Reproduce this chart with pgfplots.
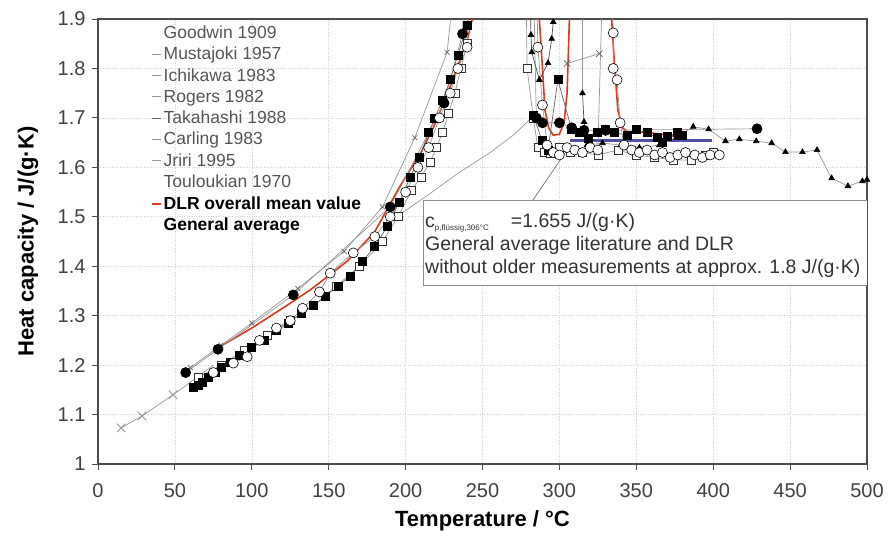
\documentclass[border=0pt]{standalone}
\usepackage{pgfplots}
\pgfplotsset{compat=1.18}
\usepackage{fontspec}
\setmainfont{Liberation Sans}
\definecolor{dlrred}{RGB}{222,56,30}
\definecolor{avgblue}{RGB}{80,80,170}
\definecolor{lgray}{RGB}{150,150,150}
\definecolor{txtgray}{RGB}{85,85,85}
\begin{document}
\begin{tikzpicture}
\begin{axis}[
  at={(0,0)}, anchor=south west,
  scale only axis, width=769pt, height=445pt,
  xmin=0, xmax=500, ymin=1, ymax=1.9,
  xtick={0,50,100,150,200,250,300,350,400,450,500},
  ytick={1,1.1,1.2,1.3,1.4,1.5,1.6,1.7,1.8,1.9},
  yticklabels={1,1.1,1.2,1.3,1.4,1.5,1.6,1.7,1.8,1.9},
  tick align=outside, xtick pos=bottom, ytick pos=left,
  major tick length=6pt,
  tick style={black!70, line width=0.9pt},
  axis line style={black!70, line width=1.2pt},
  grid=major,
  major grid style={black!18, dotted, line width=0.6pt},
  tick label style={font=\fontsize{20}{24}\selectfont, text=black!75},
  xticklabel style={yshift=-10pt},
  yticklabel style={xshift=-3pt},
  /pgf/number format/assume math mode=true,
  xlabel={\bfseries Temperature / °C},
  ylabel={\bfseries Heat capacity / J/(g·K)},
  label style={font=\fontsize{22}{26}\selectfont},
  xlabel style={at={(axis description cs:0.5,-0.128)}, anchor=center},
  ylabel style={at={(axis description cs:-0.091,0.5)}, anchor=center},
  legend style={at={(rel axis cs:0.065,0.993)}, anchor=north west, draw=none, fill=none,
    font=\fontsize{17.5}{21}\selectfont, row sep=4.2pt, nodes={inner sep=1.5pt}},
  legend cell align=left,
  legend image code/.code={\draw[#1] (0pt,0pt) -- (9pt,0pt);},
]
% legend
\addlegendimage{opacity=0}\addlegendentry{\textcolor{txtgray}{Goodwin 1909}}
\addlegendimage{lgray, line width=0.8pt}\addlegendentry{\textcolor{txtgray}{Mustajoki 1957}}
\addlegendimage{lgray, line width=0.8pt}\addlegendentry{\textcolor{txtgray}{Ichikawa 1983}}
\addlegendimage{lgray, line width=0.8pt}\addlegendentry{\textcolor{txtgray}{Rogers 1982}}
\addlegendimage{black!60, line width=0.8pt}\addlegendentry{\textcolor{txtgray}{Takahashi 1988}}
\addlegendimage{lgray, line width=0.8pt}\addlegendentry{\textcolor{txtgray}{Carling 1983}}
\addlegendimage{lgray, line width=0.8pt}\addlegendentry{\textcolor{txtgray}{Jriri 1995}}
\addlegendimage{opacity=0}\addlegendentry{\textcolor{txtgray}{Touloukian 1970}}
\addlegendimage{draw=dlrred, line width=2pt}\addlegendentry{\textbf{DLR overall mean value}}
\addlegendimage{opacity=0}\addlegendentry{\textbf{General average}}

% General average
\addplot[forget plot, avgblue, line width=3pt] coordinates {(307,1.655) (399,1.655)};

% Goodwin 1909 (thin grey line)
\addplot[forget plot, lgray, line width=0.7pt] coordinates {
(196,1.504) (215,1.545) (235,1.59) (255,1.63) (270,1.665) (282,1.700)};

% DLR overall mean
\addplot[forget plot, dlrred, line width=1.6pt] coordinates {
(78,1.235) (100,1.275) (120,1.315) (138,1.352) (162,1.41) (180,1.47) (196,1.56) (210,1.63)
(218,1.68) (229,1.763) (240,1.857) (245,1.92) (250,2.3) (283,2.3)
(287,1.898) (289,1.80) (290.6,1.716) (293,1.68) (296,1.665) (300,1.667) (303,1.69)
(305,1.75) (306,1.85) (307,1.95) (310,2.3) (331,2.3)
(334,1.898) (336,1.80) (338,1.716) (341,1.68) (344,1.672) (359,1.67) (370,1.665) (382,1.66)};

% Touloukian 1970
\addplot[forget plot, lgray, line width=0.7pt, mark=x, mark size=6pt, mark options={lgray, line width=0.9pt}]
coordinates {(15,1.073) (28.6,1.097) (48.8,1.14)};
\addplot[forget plot, lgray, line width=0.7pt] coordinates {(48.8,1.14) (60,1.165) (75,1.20)};

% Mustajoki 1957
\addplot[forget plot, lgray, line width=0.7pt, mark=x, mark size=3.5pt, mark options={black!60}]
coordinates {(60,1.195) (80,1.24) (100,1.285) (130,1.355) (160,1.43) (185,1.52) (206,1.66) (227,1.833) (236,2.1)};
\addplot[forget plot, lgray, line width=0.7pt, mark=x, mark size=4.5pt, mark options={black!60}]
coordinates {(305,1.81) (326,1.83)};

% Ichikawa 1983 (open squares)
\addplot[forget plot, lgray, line width=0.7pt, mark=square*, mark size=4pt, mark options={fill=white, draw=black!80, line width=0.6pt}]
coordinates {(65,1.175) (80,1.20) (95,1.23) (110,1.26) (125,1.29) (140,1.32) (155,1.36) (170,1.40)
(185,1.45) (195,1.50) (204,1.554) (210,1.58) (216,1.61) (220,1.64) (224,1.67) (228,1.71) (232,1.75)
(236,1.80) (240,1.85) (244,2.3)};
\addplot[forget plot, lgray, line width=0.7pt, mark=square*, mark size=4pt, mark options={fill=white, draw=black!80, line width=0.6pt}]
coordinates {(277,2.3) (279,1.80) (283,1.70) (286,1.64) (290,1.63) (294,1.629) (300,1.64) (307,1.631)
(315,1.63) (325,1.625) (338,1.635) (350,1.625) (362,1.62) (374,1.615) (386,1.615) (395,1.625) (400,1.63)};

% Rogers 1982 (filled circles)
\addplot[forget plot, lgray, line width=0.7pt, mark=*, mark size=5pt, mark options={fill=black, draw=black}]
coordinates {(57,1.185) (78,1.232) (127,1.342) (190,1.52) (225,1.73) (237,1.87) (240,2.3)};
\addplot[forget plot, lgray, line width=0.7pt, mark=*, mark size=5pt, mark options={fill=black, draw=black}]
coordinates {(281,2.3) (285,1.70) (289,1.69) (300,1.69) (308,1.68) (316,1.675) (330,1.675)};
\addplot[forget plot, lgray, line width=0.7pt, mark=*, mark size=5pt, mark options={fill=black, draw=black}]
coordinates {(330,1.675) (428.5,1.678)};

% Takahashi 1988 (filled squares)
\addplot[forget plot, black!60, line width=0.7pt, mark=square*, mark size=4pt, mark options={fill=black, draw=black}]
coordinates {(62,1.155) (65,1.16) (68,1.165) (72,1.175) (76,1.185) (80,1.195) (86,1.205) (92,1.22)
(100,1.235) (108,1.25) (116,1.27) (124,1.285) (132,1.305) (140,1.32) (148,1.34) (156,1.36) (164,1.38)
(172,1.41) (180,1.44) (188,1.48) (196,1.53) (203,1.58) (209,1.62) (215,1.67) (219,1.70) (224,1.735)
(229,1.777) (234,1.827) (240,1.888) (243,2.3)};
\addplot[forget plot, black!60, line width=0.7pt, mark=square*, mark size=4pt, mark options={fill=black, draw=black}]
coordinates {(283,1.706) (288.6,1.655) (292.6,1.635) (299,1.777) (308,1.676) (313,1.67) (318.6,1.659)
(324.4,1.67) (329.6,1.676) (336,1.67) (344,1.665) (350,1.676) (357,1.67) (363.5,1.66) (367,1.65)
(370,1.662) (376.5,1.67) (380,1.665)};

% Carling 1983 (small triangles)
\addplot[forget plot, black!70, line width=0.7pt, mark=triangle*, mark size=3.2pt, mark options={fill=black, draw=black}]
coordinates {(279,2.3) (281.5,1.868) (282,1.833) (287,1.777) (292.6,1.811) (295,1.86) (296,1.894) (297,2.3)};
\addplot[forget plot, lgray, line width=0.7pt] coordinates {(315,2.3) (315,1.75)};
\addplot[forget plot, black!70, line width=0.7pt, mark=triangle*, mark size=3.2pt, mark options={fill=black, draw=black}]
coordinates {(315,1.75) (316,1.692) (318,1.645)};
\addplot[forget plot, lgray, line width=0.7pt, mark=triangle*, mark size=3.2pt, mark options={fill=black, draw=black}]
coordinates {(318,1.645) (328,1.649) (340,1.645) (352,1.64) (365,1.645) (376,1.66) (387,1.682)
(397,1.677) (408,1.653) (417,1.657) (428,1.653) (438,1.649) (447,1.631) (458,1.631) (467.5,1.635)
(477,1.578) (487.6,1.562) (497,1.572) (500,1.575)};

% Jriri 1995 (open circles)
\addplot[forget plot, lgray, line width=0.7pt, mark=*, mark size=5pt, mark options={fill=white, draw=black, line width=0.6pt}]
coordinates {(75,1.185) (88,1.204) (97,1.217) (105,1.25) (116,1.275) (125,1.29) (133,1.315) (144,1.348)
(151,1.386) (166,1.427) (180,1.46) (190,1.50) (200,1.55) (208,1.60) (215,1.64) (222,1.70) (229,1.75)
(234,1.80) (240,1.843) (243,2.3)};
\addplot[forget plot, lgray, line width=0.7pt, mark=*, mark size=5pt, mark options={fill=white, draw=black, line width=0.6pt}]
coordinates {(283,2.3) (286,1.843) (289,1.726) (292,1.645) (296,1.63) (300,1.625) (305,1.64) (310,1.635)
(315,1.63) (320,1.64) (325,1.635) (331,2.3)};
\addplot[forget plot, lgray, line width=0.7pt, mark=*, mark size=5pt, mark options={fill=white, draw=black, line width=0.6pt}]
coordinates {(333,2.3) (335,1.872) (335,1.80) (337.5,1.777) (339.5,1.69) (342,1.645) (347,1.635)
(352,1.63) (357,1.635) (362,1.625) (367,1.63) (372,1.62) (377,1.625) (382,1.63) (388,1.625)
(393,1.62) (398,1.625) (404,1.625)};

% annotation
\draw[black!55, line width=0.7pt] (axis cs:282.8,1.534) -- (axis cs:305,1.635);
\draw[black!45, line width=0.9pt, fill=white] (axis cs:211.3,1.534) rectangle (axis cs:500,1.362);
\node[anchor=north west, align=left, inner sep=0pt, text=black!80,
  font=\fontsize{19.5}{23.3}\selectfont] at ([xshift=2pt,yshift=-13pt]axis cs:211.3,1.534)
  {c\textsubscript{\fontsize{8}{9}\selectfont p,flüssig,306°C}\ \ \ \ =1.655 J/(g·K)\\
   General average literature and DLR\\
   without older measurements at approx. 1.8 J/(g·K)};
\end{axis}
\pgfresetboundingbox
\path (-98pt,-71pt) rectangle (798pt,464pt);
\end{tikzpicture}
\end{document}
